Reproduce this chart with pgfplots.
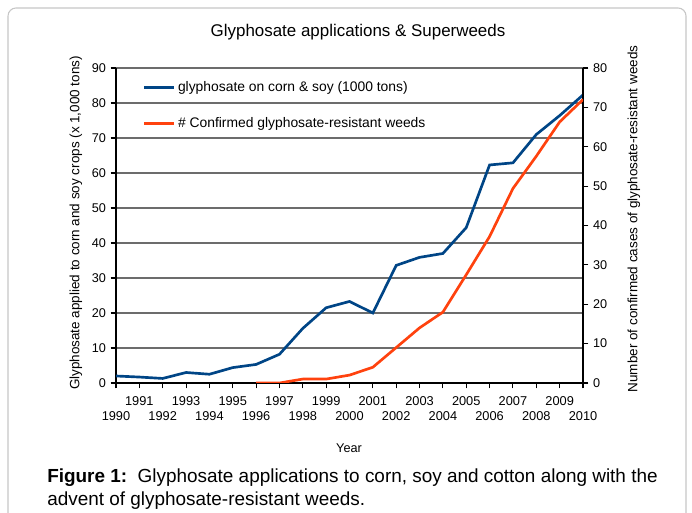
\documentclass[border=0pt]{standalone}
\usepackage{pgfplots}
\pgfplotsset{compat=1.18}
\usepackage{fontspec}
\setmainfont{Liberation Sans}
\definecolor{lblue}{HTML}{004586}
\definecolor{lorange}{HTML}{FF420E}
\begin{document}
\begin{tikzpicture}
\useasboundingbox (0,0) rectangle (519pt,384.75pt);
\draw[gray!45, line width=0.8pt, rounded corners=6pt] (6pt,378.75pt) rectangle (514.5pt,-12pt);
\begin{axis}[
  at={(87pt,97.5pt)}, anchor=south west, scale only axis,
  width=350.25pt, height=236.25pt,
  xmin=1990, xmax=2010, ymin=0, ymax=90,
  axis x line=bottom, axis y line=left,
  axis line style={-, black, line width=1pt},
  tick align=outside, major tick length=4pt,
  tick style={black, line width=0.8pt},
  ytick={0,10,...,90},
  xtick={1990,1991,...,2010},
  xticklabels={{\strut\\1990},{\strut 1991},{\strut\\1992},{\strut 1993},{\strut\\1994},{\strut 1995},{\strut\\1996},{\strut 1997},{\strut\\1998},{\strut 1999},{\strut\\2000},{\strut 2001},{\strut\\2002},{\strut 2003},{\strut\\2004},{\strut 2005},{\strut\\2006},{\strut 2007},{\strut\\2008},{\strut 2009},{\strut\\2010}},
  xticklabel style={align=center, font=\fontsize{9.6}{11.3}\selectfont, anchor=north, inner sep=1pt, yshift=-4pt},
  yticklabel style={font=\fontsize{9.5}{11}\selectfont},
  /pgf/number format/assume math mode=true,
  ymajorgrids, grid style={gray!85!black, line width=0.8pt},
]
\addplot[lblue, line width=2pt] coordinates {
(1990,2.0) (1991,1.7) (1992,1.3) (1993,3.0) (1994,2.5) (1995,4.4) (1996,5.3)
(1997,8.2) (1998,15.6) (1999,21.5) (2000,23.3) (2001,20.0) (2002,33.6) (2003,35.9)
(2004,37.0) (2005,44.4) (2006,62.3) (2007,62.9) (2008,71.0) (2009,76.4) (2010,82.3)};
\end{axis}
\begin{axis}[
  at={(87pt,97.5pt)}, anchor=south west, scale only axis,
  width=350.25pt, height=236.25pt,
  xmin=1990, xmax=2010, ymin=0, ymax=80,
  axis x line=none, axis y line=right,
  axis line style={-, black, line width=1pt},
  tick align=outside, major tick length=4pt,
  tick style={black, line width=0.8pt},
  ytick={0,10,...,80}, xtick=\empty,
  yticklabel style={font=\fontsize{9.5}{11}\selectfont},
  /pgf/number format/assume math mode=true,
  legend style={at={(0.048,0.975)}, anchor=north west, draw=none, fill=none,
    font=\fontsize{10.4}{12}\selectfont, row sep=14pt},
  legend cell align=left,
  legend image code/.code={\draw[#1] (0pt,0pt) -- (22.5pt,0pt);},
]
\addlegendimage{lblue, line width=2pt}
\addlegendentry{glyphosate on corn \& soy (1000 tons)}
\addplot[lorange, line width=2pt] coordinates {
(1996,0) (1997,0) (1998,1) (1999,1) (2000,2) (2001,4) (2002,9) (2003,14) (2004,18)
(2005,27.5) (2006,37.2) (2007,49.4) (2008,57.6) (2009,66.3) (2010,72.0)};
\addlegendentry{\# Confirmed glyphosate-resistant weeds}
\end{axis}
\node[font=\fontsize{12.7}{15}\selectfont] at (268.5pt,360.75pt) {Glyphosate applications \& Superweeds};
\node[font=\fontsize{9.5}{11}\selectfont] at (261.75pt,48.75pt) {Year};
\node[font=\fontsize{10.1}{12}\selectfont, rotate=90] at (57pt,217.5pt) {Glyphosate applied to corn and soy crops (x 1,000 tons)};
\node[font=\fontsize{10.1}{12}\selectfont, rotate=90] at (475.5pt,220.5pt) {Number of confirmed cases of glyphosate-resistant weeds};
\node[anchor=base west, inner sep=0pt, font=\fontsize{14.2}{16}\selectfont] at (35.25pt,22.5pt) {\textbf{Figure 1:}\ \ Glyphosate applications to corn, soy and cotton along with the};
\node[anchor=base west, inner sep=0pt, font=\fontsize{14.2}{16}\selectfont] at (35.25pt,5.8pt) {advent of glyphosate-resistant weeds.};
\end{tikzpicture}
\end{document}
